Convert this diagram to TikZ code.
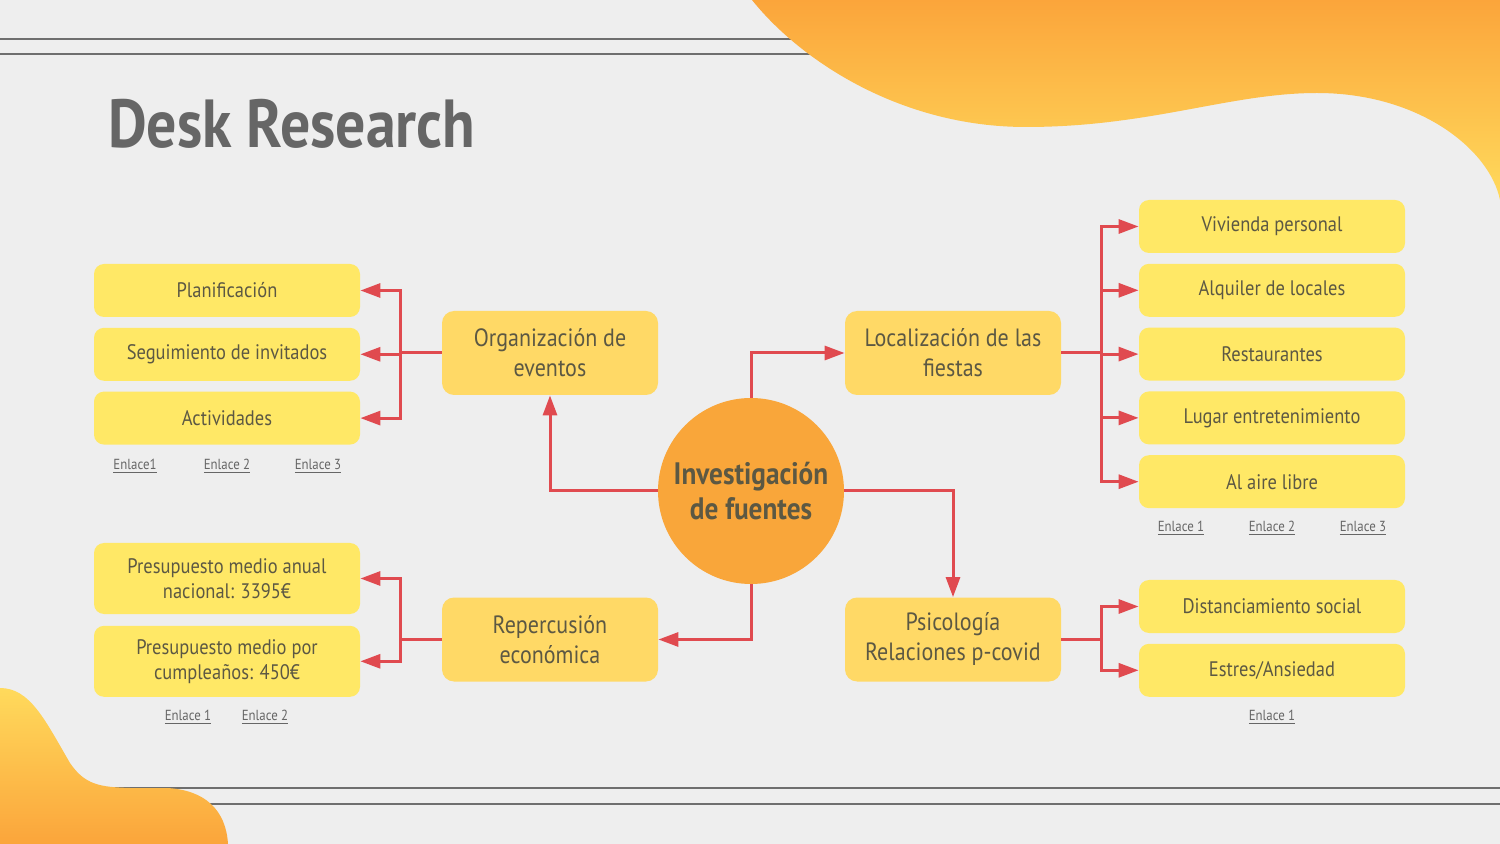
\documentclass[tikz,border=0pt]{standalone}
\usepackage{fontspec}
\setmainfont{PT Sans}[FakeStretch=0.88]
\usetikzlibrary{arrows.meta,positioning}

\definecolor{bggray}{HTML}{EEEEEE}
\definecolor{rulegray}{HTML}{6E6E6E}
\definecolor{titlegray}{HTML}{666666}
\definecolor{txtgray}{HTML}{5C5843}
\definecolor{leafyel}{HTML}{FFE866}
\definecolor{midyel}{HTML}{FFD966}
\definecolor{huborange}{HTML}{F9A63A}
\definecolor{arrred}{HTML}{E04A4F}
\definecolor{blobor}{HTML}{FBA53B}
\definecolor{blobyel}{HTML}{FFDA5C}

\tikzset{
    leaf/.style={fill=leafyel, rounded corners=5pt, minimum width=133pt, minimum height=26.5pt,
        inner sep=0pt, align=center, text=txtgray, font=\fontsize{10.5}{12.5}\selectfont},
    tall/.style={minimum height=35.5pt},
    mid/.style={fill=midyel, rounded corners=6pt, minimum width=108pt, minimum height=42pt,
        inner sep=0pt, align=center, text=txtgray, font=\fontsize{12.5}{15}\selectfont},
    hub/.style={circle, fill=huborange, minimum size=93pt, inner sep=0pt, align=center,
        text=txtgray, font=\bfseries\fontsize{15.5}{17.5}\selectfont},
    enlace/.style={text=titlegray, font=\fontsize{7.3}{8}\selectfont},
    arr/.style={arrred, line width=1.5pt, -{Triangle[length=10pt,width=7pt]}},
    rule/.style={rulegray, line width=1pt}
}

\begin{document}
\begin{tikzpicture}[x=0.5pt, y=-0.5pt, node distance=5pt]
    \useasboundingbox (0,0) rectangle (1500,844);
    \fill[bggray] (0,0) rectangle (1500,844);
    % lineas de fondo
    \draw[rule] (0,39) -- (900,39);
    \draw[rule] (0,54) -- (900,54);
    \draw[rule] (0,788) -- (1500,788);
    \draw[rule] (0,804) -- (1500,804);
    % manchas
    \shade[top color=blobor, bottom color=blobyel] (752,0) .. controls (800,60) and (900,127) .. (1026,127)
        .. controls (1150,127) and (1230,93) .. (1317,93) .. controls (1420,93) and (1490,150) .. (1500,200)
        -- (1500,0) -- cycle;
    \shade[top color=blobyel, bottom color=blobor] (0,688) .. controls (30,688) and (45,720) .. (70,763)
        .. controls (85,785) and (100,787) .. (130,788) -- (167,788) .. controls (205,790) and (226,810) .. (228,844)
        -- (0,844) -- cycle;

    \node[anchor=base west, text=titlegray, font=\bfseries\fontsize{34}{38}\selectfont] (titulo) at (101,148) {Desk Research};

    \node[hub] (inv) at (751,491) {Investigación\\de fuentes};
    \node[mid] (org) at (550,353) {Organización de\\eventos};
    \node[mid] (loc) at (953,353) {Localización de las\\fiestas};
    \node[mid] (rep) at (550,639.5) {Repercusión\\económica};
    \node[mid] (psi) at (953,639.5) {Psicología\\Relaciones p-covid};

    \node[leaf] (plan) at (227,290.5) {Planificación};
    \node[leaf, below=of plan] (segu) {Seguimiento de invitados};
    \node[leaf, below=of segu] (acti) {Actividades};

    \node[leaf, tall] (anual) at (227,578.5) {Presupuesto medio anual\\nacional: 3395€};
    \node[leaf, tall, below=5.5pt of anual] (cumple) {Presupuesto medio por\\cumpleaños: 450€};

    \node[leaf] (vivi) at (1272,226.5) {Vivienda personal};
    \node[leaf, below=of vivi] (alqu) {Alquiler de locales};
    \node[leaf, below=of alqu] (rest) {Restaurantes};
    \node[leaf, below=of rest] (luga) {Lugar entretenimiento};
    \node[leaf, below=of luga] (aire) {Al aire libre};

    \node[leaf] (dist) at (1272,606.5) {Distanciamiento social};
    \node[leaf, below=of dist] (estr) {Estres/Ansiedad};

    \node[enlace] (org1) at (135,466) {\underline{Enlace1}};
    \node[enlace] (org2) at (227,466) {\underline{Enlace 2}};
    \node[enlace] (org3) at (318,466) {\underline{Enlace 3}};
    \node[enlace] (loc1) at (1181,528) {\underline{Enlace 1}};
    \node[enlace] (loc2) at (1272,528) {\underline{Enlace 2}};
    \node[enlace] (loc3) at (1363,528) {\underline{Enlace 3}};
    \node[enlace] (rep1) at (188,717) {\underline{Enlace 1}};
    \node[enlace] (rep2) at (265,717) {\underline{Enlace 2}};
    \node[enlace] (psi1) at (1272,717) {\underline{Enlace 1}};

    % conexiones
    \draw[arr] (inv.west) -| (org.south);
    \draw[arr] (inv.north) |- (loc.west);
    \draw[arr] (inv.east) -| (psi.north);
    \draw[arr] (inv.south) |- (rep.east);
    \foreach \dest in {plan,segu,acti}
        \draw[arr] (org.west) -- ++(-41,0) |- (\dest.east);
    \foreach \dest in {anual,cumple}
        \draw[arr] (rep.west) -- ++(-41,0) |- (\dest.east);
    \foreach \dest in {vivi,alqu,rest,luga,aire}
        \draw[arr] (loc.east) -- ++(40,0) |- (\dest.west);
    \foreach \dest in {dist,estr}
        \draw[arr] (psi.east) -- ++(40,0) |- (\dest.west);
\end{tikzpicture}
\end{document}
